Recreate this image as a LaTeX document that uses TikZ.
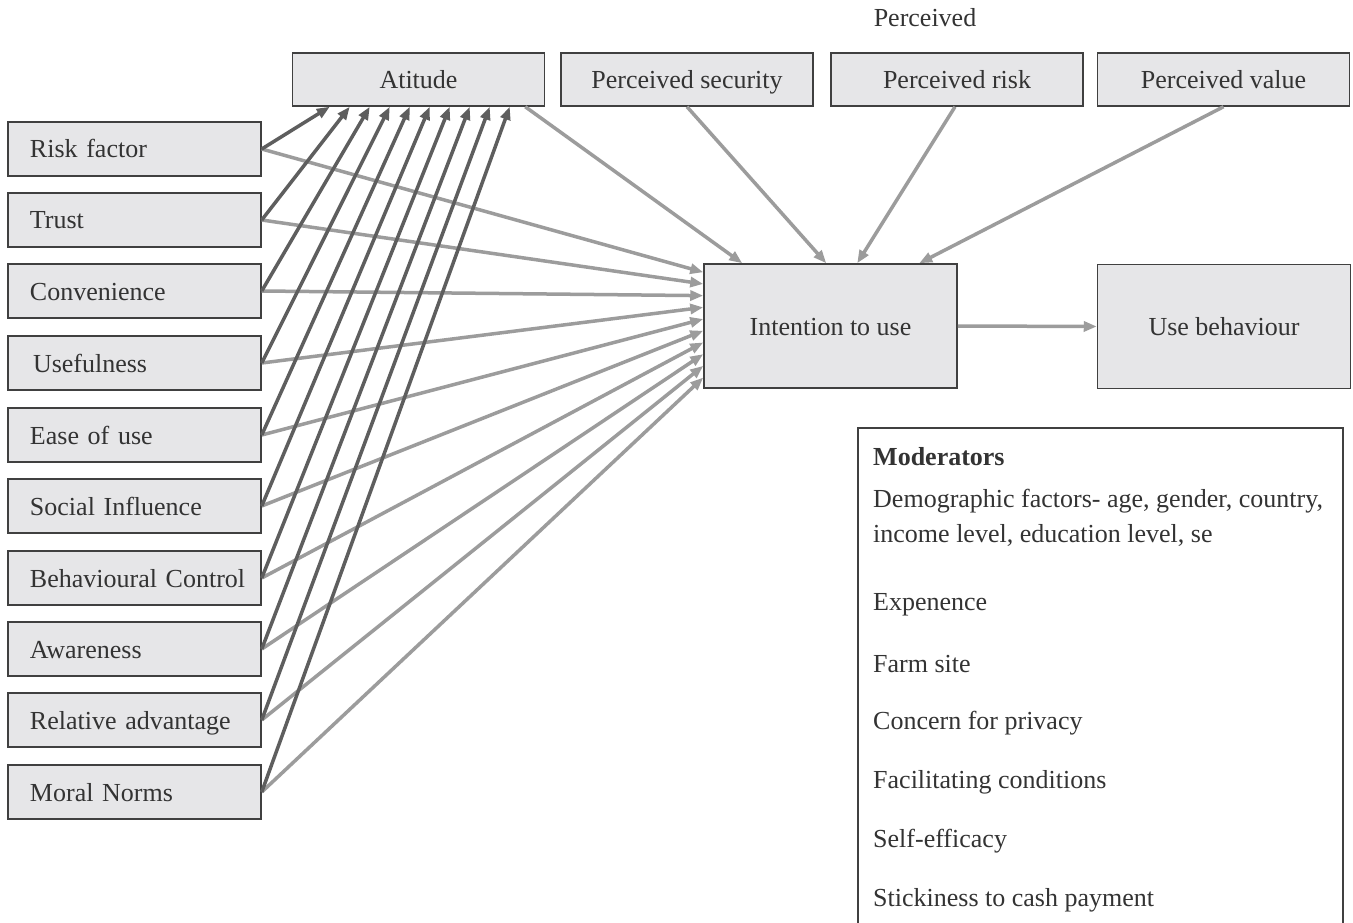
\documentclass[tikz,border=0pt]{standalone}
\usepackage{fontspec}
\setmainfont{Liberation Serif}
\usetikzlibrary{arrows.meta,calc,positioning}
\definecolor{boxfill}{HTML}{E6E6E8}
\definecolor{boxline}{HTML}{404040}
\definecolor{txt}{HTML}{333333}
\definecolor{darkarr}{HTML}{5E5E5E}
\definecolor{lightarr}{HTML}{9C9C9C}
\tikzset{
  every node/.style={font=\fontsize{26}{31}\selectfont, text=txt},
  gbox/.style={draw=boxline, fill=boxfill, line width=1.5pt, inner sep=0pt, text height=19pt, text depth=1pt},
  leftbox/.style={gbox, minimum width=253pt, minimum height=54pt, text width=253pt, inner xsep=0pt, align=left, execute at begin node={\hspace*{22pt}}},
  topbox/.style={gbox, minimum width=252pt, minimum height=53pt},
  bigbox/.style={gbox, minimum width=253pt, minimum height=124pt},
  darkline/.style={draw=darkarr, line width=3.5pt, -{Triangle[length=13pt,width=10pt]}},
  lightline/.style={draw=lightarr, line width=3.5pt, -{Triangle[length=13pt,width=10pt]}},
  modtext/.style={anchor=west, inner sep=0pt, align=left},
}
\begin{document}
\begin{tikzpicture}[x=1pt,y=-1pt]
\clip (0,0) rectangle (1353,923);
\useasboundingbox (0,0) rectangle (1353,923);
\fill[white] (0,0) rectangle (1353,923);

% top boxes
\node[topbox] (att) at (418.5,79.5) {Atitude};
\node[topbox] (ps) at (687,79.5) {Perceived security};
\node[topbox] (pr) at (957,79.5) {Perceived risk};
\node[topbox] (pv) at (1223.5,79.5) {Perceived value};
\node[inner sep=0pt] (plabel) at (925,18) {Perceived};

% left boxes
\node[leftbox] (rf) at (134.5,149) {Risk factor};
\node[leftbox] (tr) at (134.5,220) {Trust};
\node[leftbox] (cv) at (134.5,291) {Convenience};
\node[leftbox] (uf) at (134.5,363) {\hspace{3pt}Usefulness};
\node[leftbox] (eu) at (134.5,435) {Ease of use};
\node[leftbox] (si) at (134.5,506) {Social Influence};
\node[leftbox] (bc) at (134.5,578) {Behavioural Control};
\node[leftbox] (aw) at (134.5,649) {Awareness};
\node[leftbox] (ra) at (134.5,720) {Relative advantage};
\node[leftbox] (mn) at (134.5,792) {Moral Norms};

% central boxes
\node[bigbox] (int) at (830.5,326) {Intention to use};
\node[bigbox] (use) at (1224,326.5) {Use behaviour};

% moderators
\node[draw=boxline, line width=1.5pt, fill=white, minimum width=485pt, minimum height=520pt, anchor=north west, inner sep=0pt] (mod) at (857,427) {};
\node[modtext, font=\bfseries\fontsize{26}{31}\selectfont] (m0) at ($(mod.north west)+(16,30)$) {Moderators};
\node[modtext, font=\fontsize{26}{35}\selectfont] (m1) at ($(mod.north west)+(16,91)$) {Demographic factors- age, gender, country,\\income level, education level, se};
\node[modtext] (m2) at ($(mod.north west)+(16,178)$) {Expenence};
\node[modtext] (m3) at ($(mod.north west)+(16,237)$) {Farm site};
\node[modtext] (m4) at ($(mod.north west)+(16,296)$) {Concern for privacy};
\node[modtext] (m5) at ($(mod.north west)+(16,355)$) {Facilitating conditions};
\node[modtext] (m6) at ($(mod.north west)+(16,414)$) {Self-efficacy};
\node[modtext] (m7) at ($(mod.north west)+(16,473)$) {Stickiness to cash payment};

% connectors from left boxes
\foreach \n [count=\i from 0] in {rf,tr,cv,uf,eu,si,bc,aw,ra,mn} {
  \draw[lightline] (\n.east) -- ($(int.north west)+(0,{9+11.7*\i})$);
}
\foreach \n [count=\i from 0] in {rf,tr,cv,uf,eu,si,bc,aw,ra,mn} {
  \draw[darkline] (\n.east) -- ($(att.south west)+({38+20*\i},0)$);
}

% top connectors
\draw[lightline] ($(att.south east)+(-20,0)$) -- ($(int.north west)+(39,0)$);
\draw[lightline] (ps.south) -- ($(int.north west)+(123,0)$);
\draw[lightline] ($(pr.south)+(-2,0)$) -- ($(int.north west)+(154,0)$);
\draw[lightline] (pv.south) -- ($(int.north west)+(216,0)$);

% to use behaviour
\draw[lightline] (int.east) -- (use.west);
\end{tikzpicture}
\end{document}
